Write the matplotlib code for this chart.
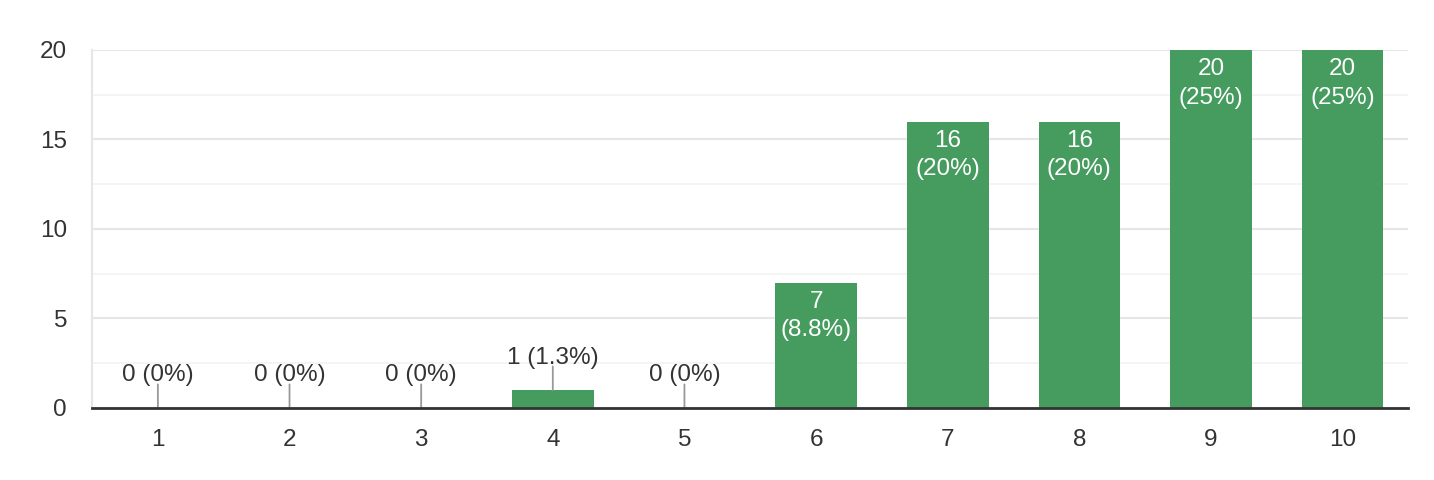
import matplotlib
matplotlib.use("Agg")
import matplotlib.pyplot as plt
from matplotlib.ticker import MultipleLocator

plt.rcParams['font.family'] = ['Liberation Sans', 'DejaVu Sans']

categories = ['1', '2', '3', '4', '5', '6', '7', '8', '9', '10']
counts = [0, 0, 0, 1, 0, 7, 16, 16, 20, 20]
percents = ['0%', '0%', '0%', '1.3%', '0%', '8.8%', '20%', '20%', '25%', '25%']

bar_color = '#469b5f'
text_color = '#333333'
fs = 17.5

fig = plt.figure(figsize=(14.34, 4.8), dpi=100)
ax = fig.add_axes([0.0642, 0.15, 0.918, 0.746])

x = list(range(1, len(categories) + 1))
ax.bar(x, counts, width=0.62, color=bar_color, zorder=3)

for xi, c, p in zip(x, counts, percents):
    if c >= 5:
        # label inside the bar, two lines
        ax.annotate(f"{c}\n({p})", (xi, c), xytext=(0, -6), textcoords='offset points',
                    ha='center', va='top', color='white', fontsize=fs, linespacing=1.38, zorder=4)
    else:
        # small bars: label above with a leader line
        ax.annotate("", (xi, c), xytext=(0, 17), textcoords='offset points',
                    arrowprops=dict(arrowstyle='-', color='#999999', lw=1.3,
                                    shrinkA=0, shrinkB=0), zorder=4)
        ax.annotate(f"{c} ({p})", (xi, c), xytext=(0, 15.5), textcoords='offset points',
                    ha='center', va='bottom', color=text_color, fontsize=fs, zorder=4)

ax.set_xlim(0.5, 10.5)
ax.set_ylim(0, 20)
ax.set_xticks(x)
ax.set_xticklabels(categories)
ax.yaxis.set_major_locator(MultipleLocator(5))
ax.yaxis.set_minor_locator(MultipleLocator(2.5))
ax.grid(axis='y', which='major', color='#e6e6e6', lw=1.5, zorder=0)
ax.grid(axis='y', which='minor', color='#f2f2f2', lw=1.2, zorder=0)
ax.tick_params(axis='both', which='both', length=0, labelsize=fs, labelcolor=text_color)
ax.tick_params(axis='y', pad=18)
ax.tick_params(axis='x', pad=15)

for s in ['top', 'right']:
    ax.spines[s].set_visible(False)
ax.spines['left'].set_color('#e6e6e6')
ax.spines['left'].set_linewidth(1.5)
ax.spines['bottom'].set_color('#333333')
ax.spines['bottom'].set_linewidth(2)
ax.spines['bottom'].set_zorder(5)

fig.savefig("out.png", dpi=100)
